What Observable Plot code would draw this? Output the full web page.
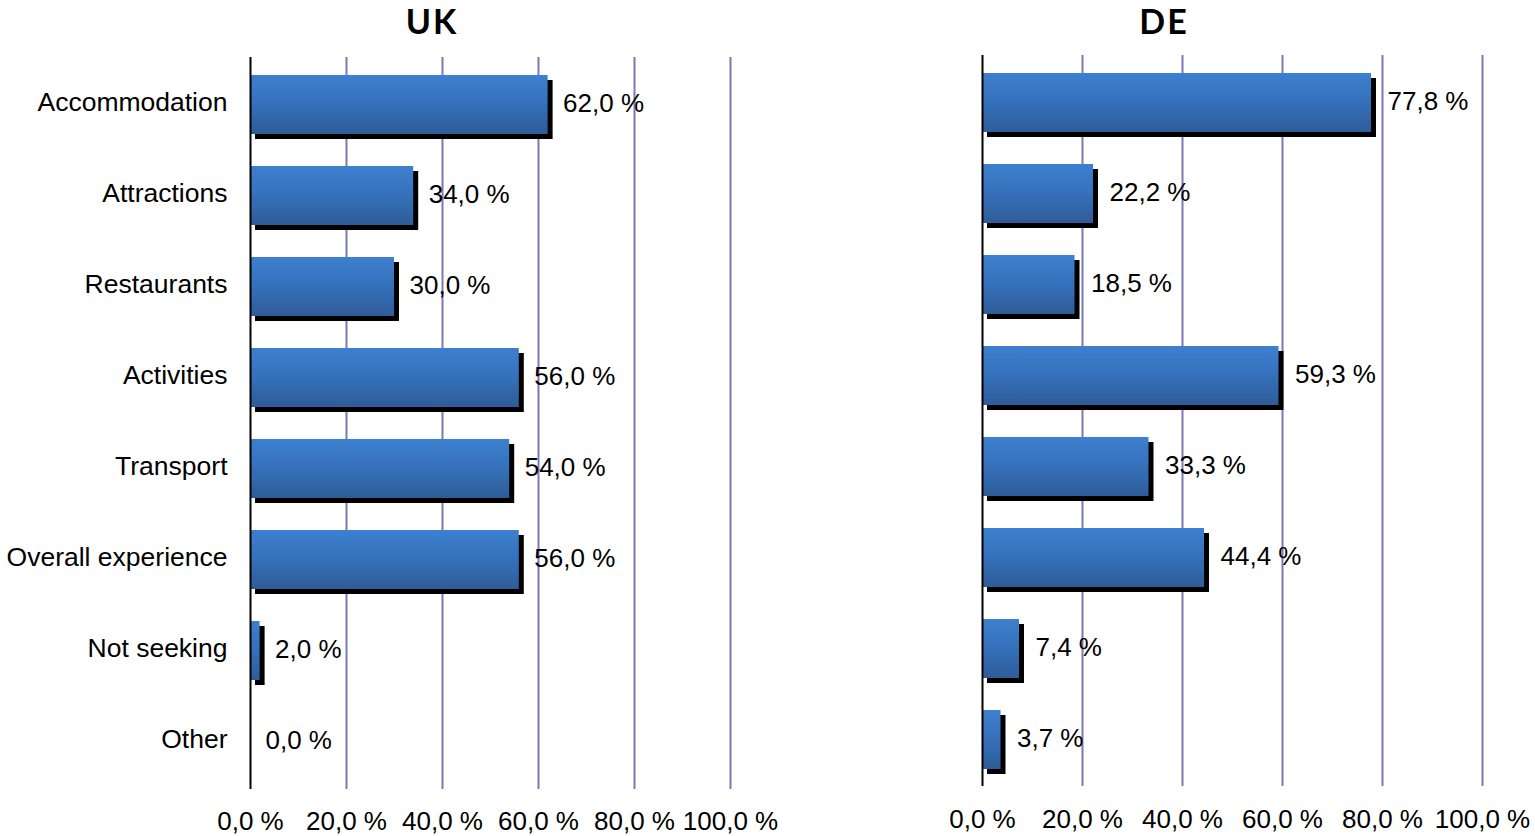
<!DOCTYPE html>
<html>
<head>
<meta charset="utf-8">
<script src="https://cdn.jsdelivr.net/npm/d3@7"></script>
<script src="https://cdn.jsdelivr.net/npm/@observablehq/plot@0.6"></script>
<style>
  html, body { margin: 0; padding: 0; background: #fff; }
  #wrap { position: relative; width: 1535px; height: 836px; overflow: hidden; }
  .panel { position: absolute; top: 0; }
  .title { position: absolute; top: 0px; font-family: Lato, "Open Sans", sans-serif; font-weight: 700; font-size: 34px; line-height: normal; letter-spacing: 2px; transform: translateX(-50%); color: #000; z-index: 2; }
</style>
</head>
<body>
<div id="wrap">
  <div class="panel" id="uk" style="left:0px;"></div>
  <div class="panel" id="de" style="left:900px;"></div>
  <div class="title" id="t-uk" style="left:432px;">UK</div>
  <div class="title" id="t-de" style="left:1164px;">DE</div>
</div>
<script>
const categories = ["Accommodation", "Attractions", "Restaurants", "Activities", "Transport", "Overall experience", "Not seeking", "Other"];
const ukValues = [62.0, 34.0, 30.0, 56.0, 54.0, 56.0, 2.0, 0.0];
const deValues = [77.8, 22.2, 18.5, 59.3, 33.3, 44.4, 7.4, 3.7];
const xTicks = [0, 20, 40, 60, 80, 100];
const gridTicks = [20, 40, 60, 80, 100];

const fmt = v => v.toFixed(1).replace(".", ",") + " %";
const FONT = "'Liberation Sans', Arial, sans-serif";

function gradientDefs(id) {
  return () => {
    const ns = "http://www.w3.org/2000/svg";
    const defs = document.createElementNS(ns, "defs");
    const lg = document.createElementNS(ns, "linearGradient");
    lg.setAttribute("id", id);
    lg.setAttribute("x1", "0"); lg.setAttribute("y1", "0");
    lg.setAttribute("x2", "0"); lg.setAttribute("y2", "1");
    [["0%", "#3d80d0"], ["45%", "#3672bd"], ["100%", "#2e5c98"]].forEach(([o, c]) => {
      const s = document.createElementNS(ns, "stop");
      s.setAttribute("offset", o);
      s.setAttribute("stop-color", c);
      lg.appendChild(s);
    });
    defs.appendChild(lg);
    return defs;
  };
}

function panel({values, width, height, marginLeft, marginRight, marginTop, marginBottom, showY, gradId, xPad, labelDx}) {
  const data = categories.map((c, i) => ({category: c, value: values[i]}));
  return Plot.plot({
    width, height, marginLeft, marginRight, marginTop, marginBottom,
    style: {fontFamily: FONT, fontSize: "26px", color: "#000", background: "transparent", overflow: "visible"},
    x: {domain: [0, 100], axis: null},
    y: {domain: categories, paddingInner: 0.355, paddingOuter: 0.1775, axis: null},
    marks: [
      gradientDefs(gradId),
      Plot.ruleX(gridTicks, {stroke: "#7b79b3", strokeWidth: 2}),
      Plot.barX(data, {x: "value", y: "category", fill: "#000", dx: 5, dy: 5}),
      Plot.barX(data, {x: "value", y: "category", fill: `url(#${gradId})`}),
      Plot.ruleX([0], {stroke: "#000", strokeWidth: 2}),
      Plot.text(data, {x: "value", y: "category", text: d => fmt(d.value), textAnchor: "start", dx: labelDx, dy: -1, fontSize: 26, fill: "#000"}),
      Plot.axisX({ticks: xTicks, tickFormat: fmt, tickSize: 0, tickPadding: xPad, fontSize: 26, label: null}),
      showY ? Plot.axisY({tickSize: 0, tickPadding: 23, fontSize: 26.5, dy: -2, label: null}) : null
    ]
  });
}

document.getElementById("uk").appendChild(panel({
  values: ukValues, width: 780, height: 836,
  marginLeft: 250, marginRight: 50, marginTop: 57, marginBottom: 47,
  showY: true, gradId: "gradUK", xPad: 22, labelDx: 15
}));

document.getElementById("de").appendChild(panel({
  values: deValues, width: 635, height: 836,
  marginLeft: 82, marginRight: 53, marginTop: 55, marginBottom: 50,
  showY: false, gradId: "gradDE", xPad: 23, labelDx: 16
}));
</script>
</body>
</html>
